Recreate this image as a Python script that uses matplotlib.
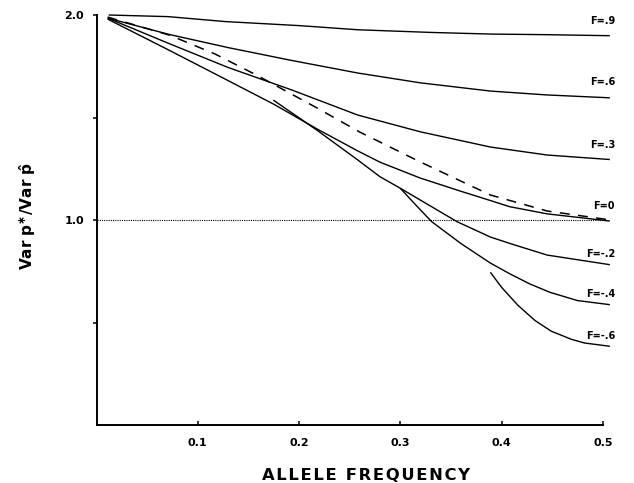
import matplotlib
matplotlib.use("Agg")
import matplotlib.pyplot as plt

# ---- data ----
p_f09 = [0.012, 0.071, 0.127, 0.201, 0.258, 0.330, 0.389, 0.445, 0.507]
v_f09 = [2.000, 1.992, 1.968, 1.948, 1.928, 1.915, 1.907, 1.904, 1.899]

p_f06 = [0.011, 0.071, 0.130, 0.191, 0.258, 0.320, 0.389, 0.445, 0.507]
v_f06 = [1.985, 1.906, 1.841, 1.780, 1.717, 1.669, 1.629, 1.610, 1.596]

p_f03 = [0.011, 0.071, 0.130, 0.193, 0.258, 0.320, 0.389, 0.445, 0.507]
v_f03 = [1.985, 1.862, 1.744, 1.634, 1.512, 1.430, 1.356, 1.317, 1.295]

p_f0 = [0.011, 0.071, 0.130, 0.175, 0.2175, 0.258, 0.280, 0.3195, 0.360, 0.389,
        0.408, 0.445, 0.507]
v_f0 = [1.980, 1.830, 1.680, 1.565, 1.445, 1.337, 1.282, 1.205, 1.140, 1.095,
        1.065, 1.030, 0.995]

p_fm2 = [0.1746, 0.2175, 0.258, 0.280, 0.300, 0.356, 0.389, 0.408, 0.445, 0.507]
v_fm2 = [1.585, 1.439, 1.293, 1.211, 1.155, 0.992, 0.917, 0.886, 0.829, 0.782]

p_fm4 = [0.300, 0.315, 0.331, 0.360, 0.389, 0.408, 0.428, 0.448, 0.475, 0.507]
v_fm4 = [1.155, 1.075, 0.992, 0.885, 0.790, 0.738, 0.688, 0.647, 0.607, 0.587]

p_fm6 = [0.389, 0.400, 0.416, 0.433, 0.449, 0.469, 0.482, 0.507]
v_fm6 = [0.745, 0.672, 0.585, 0.510, 0.458, 0.418, 0.400, 0.384]

p_dash = [0.011, 0.072, 0.117, 0.158, 0.218, 0.260, 0.319, 0.389, 0.445, 0.505]
v_dash = [1.990, 1.902, 1.810, 1.707, 1.546, 1.429, 1.285, 1.122, 1.044, 1.002]

labels = ["F=.9", "F=.6", "F=.3", "F=0", "F=-.2", "F=-.4", "F=-.6"]
label_y = [1.971, 1.673, 1.366, 1.068, 0.834, 0.641, 0.434]

x_ticks = [0.1, 0.2, 0.3, 0.4, 0.5]
x_ticklabels = ["0.1", "0.2", "0.3", "0.4", "0.5"]
y_ticks = [0.5, 1.0, 1.5, 2.0]
y_ticklabels = ["", "1.0", "", "2.0"]

# ---- figure ----
fig = plt.figure(figsize=(6.34, 4.83), dpi=100)
ax = fig.add_axes([96.5 / 634, 58 / 483, 506.25 / 634, 410 / 483])
ax.set_xlim(0, 0.5)
ax.set_ylim(0, 2.0)

curves = [(p_f09, v_f09), (p_f06, v_f06), (p_f03, v_f03), (p_f0, v_f0),
          (p_fm2, v_fm2), (p_fm4, v_fm4), (p_fm6, v_fm6)]
for px, pv in curves:
    ax.plot(px, pv, color="black", lw=1.0, clip_on=False, solid_capstyle="butt",
            solid_joinstyle="round")

ax.plot(p_dash, v_dash, color="black", lw=1.1, dashes=(6.5, 5.5), clip_on=False)
ax.plot([0, 0.505], [1.0, 1.0], color="black", lw=0.8, dashes=(1, 1), clip_on=False)

for lab, ly in zip(labels, label_y):
    ax.text(0.512, ly, lab, ha="right", va="center", fontsize=7, fontweight="bold",
            clip_on=False)

for s in ["top", "right"]:
    ax.spines[s].set_visible(False)
ax.spines["left"].set_linewidth(1.4)
ax.spines["bottom"].set_linewidth(1.4)

ax.set_xticks(x_ticks)
ax.set_xticklabels(x_ticklabels, fontsize=8, fontweight="bold")
ax.set_yticks(y_ticks)
ax.set_yticklabels(y_ticklabels, fontsize=8, fontweight="bold")
ax.tick_params(axis="x", direction="in", length=3, width=1.1, pad=9)
ax.tick_params(axis="y", direction="out", length=3, width=1.1, pad=6)

xlabel = "\u200a".join("ALLELE FREQUENCY")
fig.text(366 / 634, 1 - 475 / 483, xlabel, ha="center", va="center",
         fontsize=11.8, fontweight="bold")
fig.text(28 / 634, 1 - 216 / 483,
         r"Var $\mathbf{p}^{\mathbf{\ast}}$/Var $\mathbf{\hat{p}}$",
         rotation=90, ha="center", va="center", fontsize=11, fontweight="bold")

fig.savefig("out.png", dpi=100)
